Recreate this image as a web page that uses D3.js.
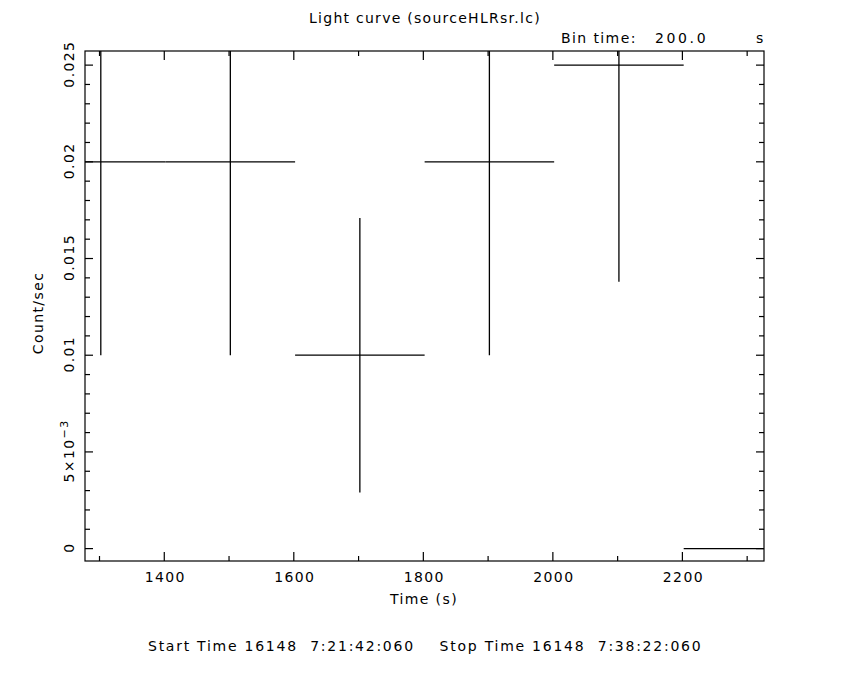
<!DOCTYPE html>
<html>
<head>
<meta charset="utf-8">
<script src="https://cdn.jsdelivr.net/npm/d3@7"></script>
<style>
  body { margin: 0; background: #fff; }
  svg text { font-family: "DejaVu Sans", sans-serif; fill: #000; letter-spacing: 1.4px; }
</style>
</head>
<body>
<svg width="850" height="680"></svg>
<script>
// light curve bins (centre time in s, rate, 1-sigma error)
const times = [1302, 1502, 1702, 1902, 2102, 2302];
const rates = [0.02, 0.02, 0.01, 0.02, 0.025, 0];
const rateErr = [0.01, 0.01, 0.0071, 0.01, 0.0112, 0];
const binTime = 200;

const xMajor = [1400, 1600, 1800, 2000, 2200];
const yMajor = [0, 0.005, 0.01, 0.015, 0.02, 0.025];
const yLabels = ["0", "5x", "0.01", "0.015", "0.02", "0.025"];

const margin = { top: 51, right: 86, bottom: 119, left: 85 };
const width = 850 - margin.left - margin.right;
const height = 680 - margin.top - margin.bottom;

const svg = d3.select("svg");
const g = svg.append("g").attr("transform", `translate(${margin.left},${margin.top})`);

const x = d3.scaleLinear().domain([1277.6, 2326]).range([0, width]);
const y = d3.scaleLinear().domain([-0.00064, 0.02573]).range([height, 0]);

// frame
g.append("rect")
    .attr("width", width).attr("height", height)
    .attr("fill", "none").attr("stroke", "#000").attr("stroke-width", 1.2);

// ticks, drawn inward on all four sides
const xMinor = d3.range(1300, 2326, 100).filter(v => !xMajor.includes(v));
const yMinor = d3.range(0, 26).map(i => i / 1000).filter(v => !yMajor.some(m => Math.abs(m - v) < 1e-9));

function tickLines(vals, len, horiz) {
    vals.forEach(v => {
        if (horiz) {
            const px = x(v);
            g.append("line").attr("x1", px).attr("x2", px).attr("y1", height).attr("y2", height - len);
            g.append("line").attr("x1", px).attr("x2", px).attr("y1", 0).attr("y2", len);
        } else {
            const py = y(v);
            g.append("line").attr("x1", 0).attr("x2", len).attr("y1", py).attr("y2", py);
            g.append("line").attr("x1", width).attr("x2", width - len).attr("y1", py).attr("y2", py);
        }
    });
}
tickLines(xMajor, 9, true);
tickLines(xMinor, 5, true);
tickLines(yMajor, 8, false);
tickLines(yMinor, 5, false);
g.selectAll("line").attr("stroke", "#000").attr("stroke-width", 1.2);

// x tick labels
g.selectAll(".xlab").data(xMajor).enter().append("text")
    .attr("class", "xlab")
    .attr("x", d => x(d) + 1).attr("y", height + 21)
    .attr("text-anchor", "middle").attr("font-size", 14)
    .text(d => d);

// y tick labels, rotated
yMajor.forEach((v, i) => {
    const t = g.append("text")
        .attr("transform", `translate(-11,${y(v) - 1}) rotate(-90)`)
        .attr("text-anchor", "middle").attr("font-size", 14);
    if (i === 1) {
        t.append("tspan").text("5\u00d710");
        t.append("tspan").attr("dy", -6).attr("font-size", 11).text("\u22123");
    } else {
        t.text(yLabels[i]);
    }
});

// data: horizontal bin widths and vertical error bars, clipped to frame
svg.append("clipPath").attr("id", "clip")
    .append("rect").attr("width", width).attr("height", height);
const data = g.append("g").attr("clip-path", "url(#clip)");
times.forEach((t, i) => {
    data.append("line")
        .attr("x1", x(t - binTime / 2)).attr("x2", x(t + binTime / 2))
        .attr("y1", y(rates[i])).attr("y2", y(rates[i]));
    if (rateErr[i] > 0) {
        data.append("line")
            .attr("x1", x(t)).attr("x2", x(t))
            .attr("y1", y(rates[i] - rateErr[i])).attr("y2", y(rates[i] + rateErr[i]));
    }
});
data.selectAll("line").attr("stroke", "#000").attr("stroke-width", 1.3);

// titles
svg.append("text").attr("x", 309).attr("y", 23)
    .attr("font-size", 14).attr("textLength", 232).text("Light curve (sourceHLRsr.lc)");
svg.append("text").attr("x", 561).attr("y", 43).attr("font-size", 14).text("Bin time:");
svg.append("text").attr("x", 655).attr("y", 43).attr("font-size", 14).attr("textLength", 52).text("200.0");
svg.append("text").attr("x", 756).attr("y", 43).attr("font-size", 14).text("s");
svg.append("text").attr("x", 390).attr("y", 604)
    .attr("font-size", 14).attr("textLength", 68).text("Time (s)");
svg.append("text").attr("transform", "translate(43,313) rotate(-90)")
    .attr("text-anchor", "middle").attr("font-size", 14).text("Count/sec");
svg.append("text").attr("x", 148).attr("y", 651).attr("font-size", 14)
    .attr("xml:space", "preserve").attr("textLength", 554)
    .text("Start Time 16148  7:21:42:060    Stop Time 16148  7:38:22:060");
</script>
</body>
</html>
